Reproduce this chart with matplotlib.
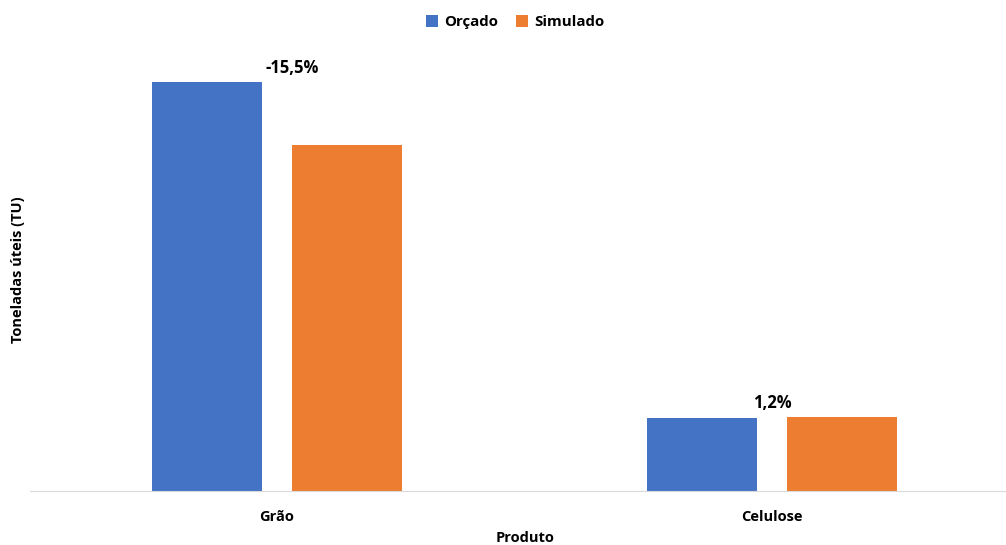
import matplotlib.pyplot as plt
import numpy as np

produtos = ["Grão", "Celulose"]
orcado = [409.0, 73.0]
simulado = [345.6, 73.9]
variacao = ["-15,5%", "1,2%"]

plt.rcParams['font.family'] = ['Open Sans', 'DejaVu Sans']
plt.rcParams['font.weight'] = 'bold'

fig = plt.figure(figsize=(10.06, 5.45), dpi=100)
ax = fig.add_axes([29.5 / 1006, 54 / 545, 990 / 1006, 450 / 545])

x = np.arange(len(produtos))
w = 0.222
ax.bar(x - 0.1414, orcado, w, color="#4472C4", label="Orçado")
ax.bar(x + 0.1414, simulado, w, color="#ED7D31", label="Simulado")

# variation labels above each group
label_dx = [0.03, 0.0]
for i, txt in enumerate(variacao):
    top = max(orcado[i], simulado[i])
    ax.text(x[i] + label_dx[i], top + 5, txt, ha="center", va="bottom",
            fontsize=12, fontweight="bold", color="#000000")

ax.set_xlim(-0.5, 1.5)
ax.set_ylim(0, 450)
ax.set_xticks(x)
ax.set_xticklabels(produtos, fontsize=10.5, fontweight="bold")
ax.tick_params(axis="x", length=0, pad=14)
ax.set_yticks([])
for s in ["top", "right", "left"]:
    ax.spines[s].set_visible(False)
ax.spines["bottom"].set_color("#D9D9D9")

fig.text(525 / 1006, 1 - 538 / 545, "Produto", ha="center", va="center",
         fontsize=10.5, fontweight="bold")
fig.text(18 / 1006, 1 - 270 / 545, "Toneladas úteis (TU)", rotation=90,
         ha="center", va="center", fontsize=10.5, fontweight="bold")

fig.legend(loc="center", bbox_to_anchor=(515 / 1006, 1 - 22 / 545), ncol=2,
           frameon=False, fontsize=10.8, handlelength=0.8, handleheight=0.8,
           columnspacing=1.2, handletextpad=0.4)

fig.savefig("out.png", dpi=100)
